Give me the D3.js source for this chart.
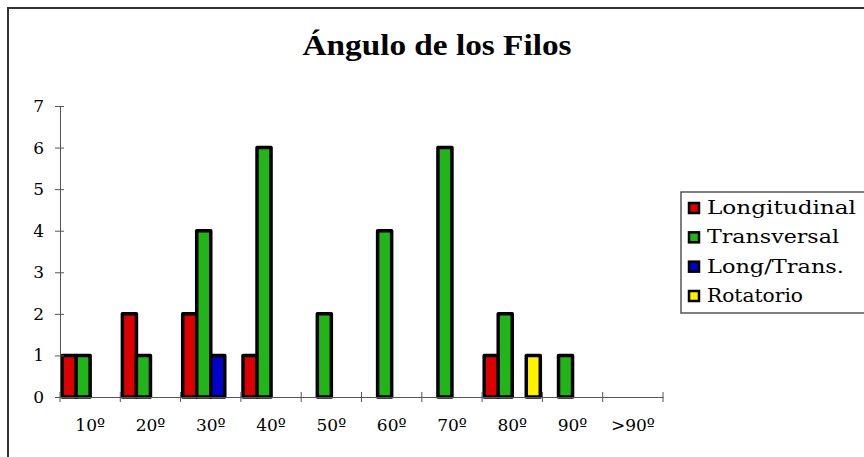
<!DOCTYPE html>
<html><head><meta charset="utf-8">
<script src="https://cdn.jsdelivr.net/npm/d3@7"></script>
<style>body{margin:0;background:#fff}svg{display:block}text{font-family:"DejaVu Serif","Liberation Serif",serif;fill:#000}</style>
</head><body>
<svg id="c" width="864" height="457"></svg>
<script>
const categories = ["10º","20º","30º","40º","50º","60º","70º","80º","90º",">90º"];
const seriesNames = ["Longitudinal","Transversal","Long/Trans.","Rotatorio"];
const longitudinal = [1,2,2,1,0,0,0,1,0,0];
const transversal  = [1,1,4,6,2,4,6,2,1,0];
const longTrans    = [0,0,1,0,0,0,0,0,0,0];
const rotatorio    = [0,0,0,0,0,0,0,1,0,0];
const yTicks = [0,1,2,3,4,5,6,7];
const colors = ["#DD0000","#22B51A","#0000CC","#FFF200"];
const title = "Ángulo de los Filos";

const seriesValues = [longitudinal, transversal, longTrans, rotatorio];
const svg = d3.select("#c");

// outer frame
svg.append("rect").attr("x",8).attr("y",8).attr("width",900).attr("height",500)
  .attr("fill","none").attr("stroke","#333").attr("stroke-width",2);

const x0 = d3.scaleBand().domain(categories).range([60,663]).padding(0);
const x1 = d3.scaleBand().domain(seriesNames).range([0,x0.bandwidth()]).paddingInner(0).paddingOuter(0.15);
const y = d3.scaleLinear().domain([0,7]).range([397,106]);

// title
svg.append("text").attr("x",437).attr("y",55).attr("text-anchor","middle")
  .style("font-family","'Liberation Serif',serif")
  .style("font-size","29px").attr("font-weight","bold").attr("textLength",269).attr("lengthAdjust","spacingAndGlyphs")
  .text(title);

// bars
const data = [];
seriesValues.forEach((vals,si)=>vals.forEach((v,ci)=>{ if(v>0) data.push({s:seriesNames[si],c:categories[ci],v,si}); }));
svg.append("g").selectAll("rect").data(data).join("rect")
  .attr("x",d=>x0(d.c)+x1(d.s))
  .attr("width",x1.bandwidth())
  .attr("y",d=>y(d.v))
  .attr("height",d=>y(0)-y(d.v))
  .attr("fill",d=>colors[d.si])
  .attr("stroke","#000").attr("stroke-width",3.5).attr("stroke-linejoin","round");

// y axis
const yAxis = d3.axisLeft(y).tickValues(yTicks).tickSize(5).tickPadding(11).tickFormat(d3.format("d"));
const gy = svg.append("g").attr("transform","translate(60,0)").call(yAxis);
gy.attr("font-size",null).attr("font-family",null);
gy.select(".domain").attr("stroke","#555");
gy.selectAll(".tick line").attr("stroke","#555").attr("x2",-5).attr("x1",4);
gy.selectAll(".tick text").style("font-size","17px");

// x axis
const xAxis = d3.axisBottom(x0).tickSize(0).tickPadding(22);
const gx = svg.append("g").attr("transform","translate(0,397)").call(xAxis);
gx.attr("font-size",null).attr("font-family",null);
gx.select(".domain").attr("stroke","#555");
gx.selectAll(".tick text").style("font-size","17px");
const bounds = categories.map(c=>x0(c)).concat([x0(categories[categories.length-1])+x0.bandwidth()]);
gx.selectAll(".bnd").data(bounds).join("line").attr("class","bnd")
  .attr("x1",d=>d).attr("x2",d=>d).attr("y1",-5).attr("y2",5).attr("stroke","#555");

// legend
const lg = svg.append("g");
lg.append("rect").attr("x",681).attr("y",192).attr("width",200).attr("height",121)
  .attr("fill","#fff").attr("stroke","#555").attr("stroke-width",1.5);
const rowY = d3.scalePoint().domain(seriesNames).range([208,296]);
const widths = [149,132,137,96];
seriesNames.forEach((n,i)=>{
  lg.append("rect").attr("x",689).attr("y",rowY(n)-5).attr("width",10).attr("height",10)
    .attr("fill",colors[i]).attr("stroke","#000").attr("stroke-width",2.5);
  lg.append("text").attr("x",707).attr("y",rowY(n)+6).style("font-size","18px")
    .attr("textLength",widths[i]).attr("lengthAdjust","spacingAndGlyphs").text(n);
});
</script>
</body></html>
